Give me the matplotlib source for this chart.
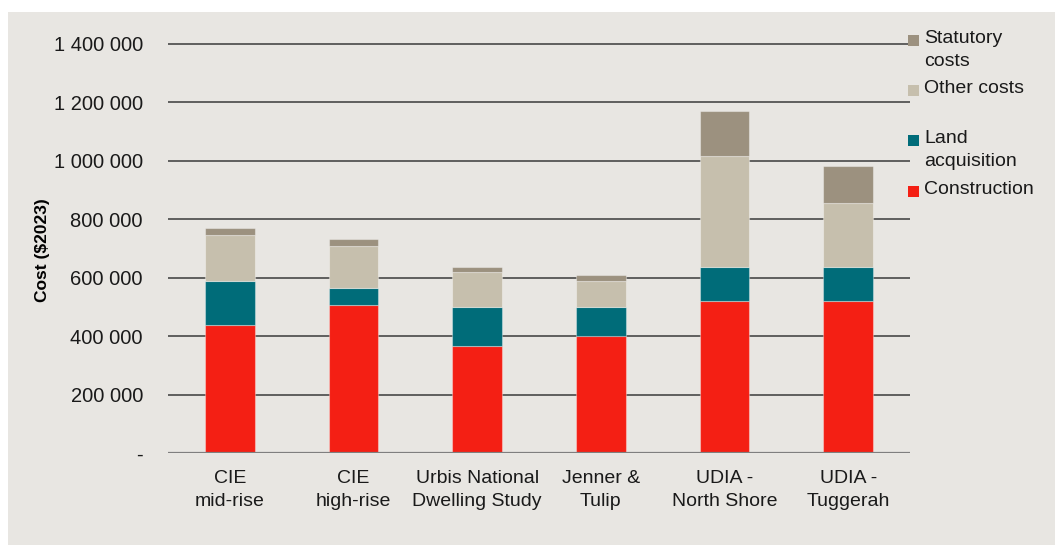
import numpy as np
import matplotlib
matplotlib.use("Agg")
import matplotlib.pyplot as plt
from matplotlib.patches import Rectangle

categories = ["CIE\nmid-rise", "CIE\nhigh-rise", "Urbis National\nDwelling Study",
              "Jenner &\nTulip", "UDIA -\nNorth Shore", "UDIA -\nTuggerah"]
construction = [439000, 506000, 366000, 402000, 520000, 520000]
land = [150000, 58000, 135000, 98000, 118000, 118000]
other = [157000, 145000, 118000, 89000, 379000, 218000]
statutory = [23000, 23000, 18000, 19000, 153000, 126000]

series_names = ["Construction", "Land\nacquisition", "Other costs", "Statutory\ncosts"]
colors = ["#f41f14", "#006c79", "#c6bfad", "#9c917f"]
yticks = [0, 200000, 400000, 600000, 800000, 1000000, 1200000, 1400000]

bg = "#e8e6e2"
W, H = 1055, 545
fig = plt.figure(figsize=(W / 100, H / 100), dpi=100)
fig.patch.set_facecolor("white")
fig.patches.append(Rectangle((8 / W, 0), 1 - 8 / W, (H - 12) / H,
                             transform=fig.transFigure, facecolor=bg,
                             edgecolor="none", zorder=-10))

ymax = 1450000
px_per_unit = (453 - 44) / 1400000
ax_h = ymax * px_per_unit
ax = fig.add_axes([168 / W, (H - 453) / H, (910 - 168) / W, ax_h / H])
ax.set_facecolor("none")

x = np.arange(len(categories))
bottom = np.zeros(len(categories))
for vals, c in zip([construction, land, other, statutory], colors):
    ax.bar(x, vals, width=0.4, bottom=bottom, color=c,
           edgecolor=(1, 1, 1, 0.35), linewidth=0.8, zorder=3)
    bottom += np.array(vals)

for yv in yticks[1:]:
    ax.axhline(yv, color="#3a3a3a", linewidth=1.1, zorder=1)
ax.axhline(0, color="#7f7f7f", linewidth=1.6, zorder=4)

ax.set_xlim(-0.5, 5.5)
ax.set_ylim(0, ymax)
ax.set_yticks(yticks)
ax.set_yticklabels(["-"] + [f"{v:,}".replace(",", " ") for v in yticks[1:]],
                   fontsize=14.5, color="#1a1a1a", family="Liberation Sans")
ax.set_xticks(x)
ax.set_xticklabels(categories, fontsize=14, color="#1a1a1a",
                   family="Liberation Sans", linespacing=1.45)
ax.tick_params(axis="y", length=0, pad=18)
ax.tick_params(axis="x", length=0, pad=12)
for s in ax.spines.values():
    s.set_visible(False)

fig.text(42 / W, (H - 250) / H, "Cost ($2023)", rotation=90, fontsize=12.5,
         fontweight="bold", ha="center", va="center", family="Liberation Sans")

# legend, top entry first
leg_y = [40, 90, 140, 191]
for name, c, yy in zip(series_names[::-1], colors[::-1], leg_y):
    fig.patches.append(Rectangle((908 / W, (H - yy - 6) / H), 11 / W, 11 / H,
                                 transform=fig.transFigure, facecolor=c,
                                 edgecolor="none"))
    fig.text(924 / W, (H - yy + 10) / H, name, fontsize=14, va="top",
             ha="left", color="#1a1a1a", family="Liberation Sans",
             linespacing=1.45)

fig.savefig("out.png", dpi=100, facecolor="white")
